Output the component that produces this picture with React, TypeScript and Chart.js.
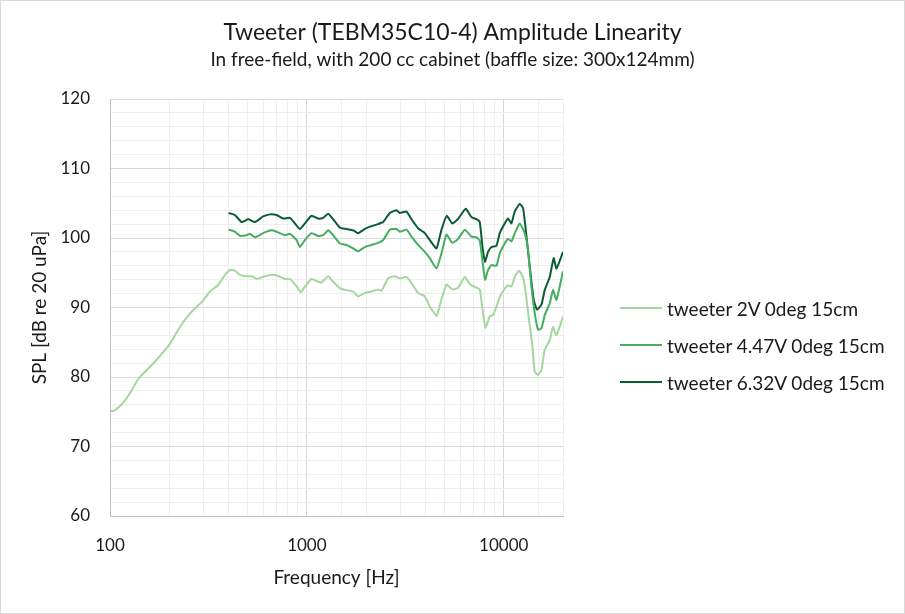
// Tweeter amplitude linearity - log frequency response chart
import React, { useEffect, useRef } from 'react';
import { Chart, registerables } from 'chart.js';

Chart.register(...registerables);

const FONT = 'Lato, "Open Sans", sans-serif';
const TEXT = '#1a1a1a';

// 2V measurement (starts at 100 Hz)
const freq2V = [
  100, 106, 116, 129, 139, 154, 169, 184, 202, 219, 240, 264, 293, 322, 353, 384,
  407, 431, 457, 496, 526, 557, 598, 664, 704, 774, 820, 890, 932, 977, 1056, 1141,
  1188, 1283, 1360, 1471, 1591, 1718, 1822, 1970, 2130, 2301, 2394, 2586, 2797, 2966,
  3207, 3400, 3673, 3972, 4211, 4465, 4570, 4733, 5118, 5478, 5843, 6340, 6761, 7211,
  7554, 7852, 8075, 8492, 8826, 9184, 9543, 10000, 10515, 10941, 11373, 11963, 12535,
  12934, 13441, 13986, 14368, 14934, 15538, 16149, 17124, 17797, 18518, 20000,
];
const spl2V = [
  75.1, 75.2, 76.2, 78.1, 79.7, 81.0, 82.2, 83.4, 84.8, 86.5, 88.2, 89.6, 90.8, 92.3, 93.2, 94.7,
  95.4, 95.3, 94.7, 94.5, 94.5, 94.1, 94.4, 94.7, 94.6, 94.1, 94.1, 93.0, 92.2, 93.0, 94.1, 93.7,
  93.6, 94.5, 93.7, 92.8, 92.5, 92.3, 91.6, 92.1, 92.3, 92.6, 92.4, 94.2, 94.5, 94.2,
  94.4, 93.5, 92.1, 91.6, 90.1, 89.1, 88.8, 90.3, 93.3, 92.6, 92.8, 94.4, 93.3, 92.9,
  92.6, 89.2, 87.1, 88.7, 88.9, 90.1, 91.5, 92.5, 93.2, 93.0, 94.4, 95.3, 94.3,
  92.1, 88.2, 84.4, 80.8, 80.3, 81.0, 83.9, 85.3, 87.2, 86.0, 88.7,
];

// 4.47V measurement
const freq447V = [
  400, 431, 457, 494, 514, 545, 600, 662, 702, 774, 820, 887, 921, 977, 1056, 1141,
  1210, 1283, 1360, 1471, 1591, 1718, 1822, 1970, 2130, 2301, 2440, 2638, 2853, 2966,
  3207, 3400, 3673, 3972, 4211, 4554, 4830, 5118, 5478, 5843, 6340, 6855, 7270, 7554,
  7798, 8038, 8324, 8662, 9184, 9543, 10117, 10515, 10941, 11373, 12055, 12783, 13285,
  13826, 14368, 14934, 15538, 16149, 17124, 17797, 18518, 20000,
];
const spl447V = [
  101.2, 100.9, 100.3, 100.4, 100.6, 100.1, 100.7, 101.1, 100.9, 100.4, 100.6, 99.7, 98.7, 99.7, 100.7, 100.3,
  100.4, 101.1, 100.4, 99.2, 99.0, 98.5, 98.1, 98.7, 99.0, 99.3, 99.7, 101.2, 101.3, 100.9,
  101.2, 100.2, 99.0, 98.0, 97.1, 95.6, 97.8, 100.5, 99.3, 99.8, 101.2, 100.2, 100.1, 99.6,
  96.7, 94.0, 95.4, 96.1, 96.0, 97.8, 99.2, 99.9, 99.5, 100.7, 102.1, 100.7, 98.3,
  93.0, 89.2, 86.8, 87.0, 88.9, 90.6, 92.5, 91.1, 95.2,
];

// 6.32V measurement
const freq632V = [
  400, 431, 466, 504, 545, 600, 649, 702, 758, 820, 869, 921, 977, 1056, 1141, 1210,
  1283, 1360, 1471, 1591, 1718, 1822, 1970, 2130, 2301, 2440, 2638, 2853, 2966, 3207,
  3400, 3673, 3972, 4211, 4554, 4830, 5136, 5478, 5843, 6416, 6855, 7270, 7554, 7798,
  8038, 8324, 8662, 9184, 9543, 10117, 10515, 10941, 11373, 12055, 12535, 12934, 13552,
  14203, 14757, 15538, 16149, 17124, 17941, 18518, 20000,
];
const spl632V = [
  103.6, 103.3, 102.3, 102.7, 102.3, 103.1, 103.4, 103.3, 102.8, 102.9, 102.1, 101.3, 102.1, 103.2, 102.8, 102.9,
  103.5, 102.7, 101.5, 101.3, 101.1, 100.7, 101.3, 101.7, 102.0, 102.3, 103.6, 104.0, 103.6, 103.8,
  102.7, 101.4, 100.7, 99.7, 98.5, 101.2, 103.2, 102.1, 102.7, 104.2, 103.0, 102.7, 102.3, 98.7,
  96.6, 98.0, 98.7, 98.9, 100.7, 102.1, 102.8, 102.1, 103.8, 104.9, 104.3, 101.2, 95.9,
  91.1, 89.7, 90.4, 92.5, 94.4, 97.1, 95.6, 98.0,
];

const seriesNames = ['tweeter 2V 0deg 15cm', 'tweeter 4.47V 0deg 15cm', 'tweeter 6.32V 0deg 15cm'];
const seriesColors = ['#a5d6a0', '#47ad5f', '#0a5c32'];
const xLabelTicks = [100, 1000, 10000];
const yLabelStep = 10;

const toPoints = (xs: number[], ys: number[]) => xs.map((x, i) => ({ x, y: ys[i] }));

const App: React.FC = () => {
  const canvasRef = useRef<HTMLCanvasElement>(null);

  useEffect(() => {
    if (!canvasRef.current) return;
    const series = [
      toPoints(freq2V, spl2V),
      toPoints(freq447V, spl447V),
      toPoints(freq632V, spl632V),
    ];

    const chart = new Chart(canvasRef.current, {
      type: 'line',
      data: {
        datasets: series.map((pts, i) => ({
          label: seriesNames[i],
          data: pts,
          borderColor: seriesColors[i],
          backgroundColor: seriesColors[i],
          borderWidth: 2,
          pointRadius: 0,
          tension: 0.15,
          fill: false,
        })),
      },
      options: {
        responsive: true,
        maintainAspectRatio: false,
        animation: false,
        layout: { padding: 0 },
        plugins: {
          legend: { display: false },
          tooltip: { enabled: false },
          title: {
            display: true,
            text: 'Tweeter (TEBM35C10-4) Amplitude Linearity',
            color: TEXT,
            font: { family: FONT, size: 23, weight: 'normal' },
            padding: { top: 18.2, bottom: 0 },
          },
          subtitle: {
            display: true,
            text: 'In free-field, with 200 cc cabinet (baffle size: 300x124mm)',
            color: TEXT,
            font: { family: FONT, size: 19, weight: 'normal' },
            padding: { top: 1.8, bottom: 27.6 },
          },
        },
        scales: {
          x: {
            type: 'logarithmic',
            min: 100,
            max: 20000,
            afterFit: (s: any) => { s.height = 97; },
            border: { color: '#bfbfbf', width: 1 },
            grid: {
              drawTicks: false,
              color: (ctx: any) => (ctx.tick && xLabelTicks.includes(ctx.tick.value) ? '#d9d9d9' : '#efefef'),
            },
            ticks: {
              autoSkip: false,
              maxRotation: 0,
              padding: 19,
              color: TEXT,
              font: { family: FONT, size: 17 },
              callback: (v: any) => (xLabelTicks.includes(Number(v)) ? String(v) : ''),
            },
            title: {
              display: true,
              text: 'Frequency [Hz]',
              color: TEXT,
              font: { family: FONT, size: 19 },
              padding: { top: 0, bottom: 24.2 },
            },
          },
          y: {
            min: 60,
            max: 120,
            afterFit: (s: any) => { s.width = 109; },
            border: { color: '#bfbfbf', width: 1 },
            grid: {
              drawTicks: false,
              color: (ctx: any) => (ctx.tick && ctx.tick.value % yLabelStep === 0 ? '#d9d9d9' : '#efefef'),
            },
            ticks: {
              stepSize: 2,
              autoSkip: false,
              padding: 20,
              color: TEXT,
              font: { family: FONT, size: 17 },
              callback: (v: any) => (Number(v) % yLabelStep === 0 ? String(v) : ''),
            },
            title: {
              display: true,
              text: 'SPL [dB re 20 uPa]',
              color: TEXT,
              font: { family: FONT, size: 19 },
              padding: { top: 27.2, bottom: 0 },
            },
          },
          // empty right-hand box that keeps room for the legend
          legendSpace: {
            type: 'linear',
            position: 'right',
            min: 0,
            max: 1,
            afterFit: (s: any) => { s.width = 341; },
            grid: { display: false, drawTicks: false },
            border: { display: false },
            ticks: { display: false },
          },
        },
      },
    });

    return () => chart.destroy();
  }, []);

  return (
    <div
      style={{
        position: 'absolute',
        left: 0,
        top: 0,
        width: 905,
        height: 614,
        boxSizing: 'border-box',
        border: '1px solid #d9d9d9',
        background: '#fff',
      }}
    >
      <div style={{ position: 'relative', width: 903, height: 612 }}>
        <canvas ref={canvasRef} />
        {seriesNames.map((name, i) => (
          <div
            key={name}
            style={{
              position: 'absolute',
              left: 619,
              top: 307 + i * 37 - 13,
              height: 26,
              display: 'flex',
              alignItems: 'center',
              fontFamily: FONT,
              fontSize: 19,
              color: TEXT,
              whiteSpace: 'nowrap',
            }}
          >
            <span style={{ display: 'inline-block', width: 42, height: 2.5, background: seriesColors[i], marginRight: 5 }} />
            {name}
          </div>
        ))}
      </div>
    </div>
  );
};

export default App;
